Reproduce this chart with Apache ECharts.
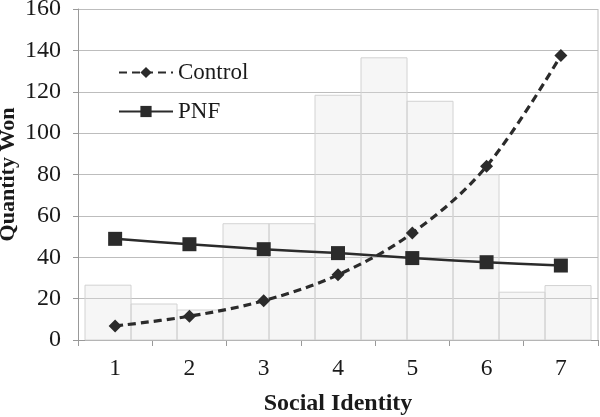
<!DOCTYPE html>
<html><head><meta charset="utf-8">
<script src="https://cdn.jsdelivr.net/npm/echarts@6/dist/echarts.min.js"></script>
<style>html,body{margin:0;padding:0;background:#fff}#c{width:600px;height:417px}</style>
</head><body><div id="c"></div>
<script>
var categories = ['1','2','3','4','5','6','7'];
var controlValues = [6.8, 11.5, 19, 31.5, 51.7, 84, 137.5];
var pnfValues = [48.9, 46.3, 43.9, 42, 39.6, 37.6, 36];
var histValues = [26.5, 17.4, 14.5, 56.2, 56.2, 118.3, 136.4, 115.4, 79.9, 23.1, 26.3];
var yTicks = {min: 0, max: 160, interval: 20};

var FONT = 'Liberation Serif';
var chart = echarts.init(document.getElementById('c'));
var histData = histValues.map(function (v, i) { return [i, v]; });
chart.setOption({
  animation: false,
  grid: {left: 78, right: 2, top: 9, bottom: 77, containLabel: false, outerBoundsMode: 'none'},
  legend: {
    orient: 'vertical', left: 113, top: 56, itemWidth: 54, itemHeight: 14, itemGap: 16,
    textStyle: {fontFamily: FONT, fontSize: 23, color: '#1a1a1a'},
    data: ['Control', 'PNF']
  },
  xAxis: [{
    type: 'category', data: categories,
    axisLine: {onZero: false, lineStyle: {color: '#999'}},
    axisTick: {show: true, length: 6, lineStyle: {color: '#999'}},
    axisLabel: {fontFamily: FONT, fontSize: 23.5, color: '#1a1a1a', margin: 17},
    name: 'Social Identity', nameLocation: 'middle', nameGap: 52, nameMoveOverlap: false,
    nameTextStyle: {fontFamily: FONT, fontSize: 24, fontWeight: 'bold', color: '#1a1a1a'}
  }, {
    type: 'value', show: false, min: -7 / 46, max: 11 + 7 / 46
  }],
  yAxis: {
    type: 'value', min: yTicks.min, max: yTicks.max, interval: yTicks.interval,
    axisLine: {show: true, onZero: false, lineStyle: {color: '#999'}},
    axisTick: {show: true, length: 5, lineStyle: {color: '#999'}},
    axisLabel: {fontFamily: FONT, fontSize: 24, color: '#1a1a1a', margin: 17},
    splitLine: {lineStyle: {color: '#bdbdbd'}},
    name: 'Quantity Won', nameLocation: 'middle', nameGap: 59, nameMoveOverlap: false,
    nameTextStyle: {fontFamily: FONT, fontSize: 22, fontWeight: 'bold', color: '#1a1a1a'}
  },
  series: [{
    type: 'custom', xAxisIndex: 1, z: 1, silent: true,
    data: histData,
    renderItem: function (params, api) {
      var i = api.value(0), v = api.value(1);
      var p0 = api.coord([i, v]);
      var p1 = api.coord([i + 1, 0]);
      return {type: 'rect', shape: {x: p0[0], y: p0[1], width: p1[0] - p0[0], height: p1[1] - p0[1]},
        style: {fill: 'rgba(225,225,225,0.3)', stroke: '#d2d2d2', lineWidth: 1}};
    }
  }, {
    name: 'Control', type: 'line', data: controlValues, smooth: 0.35, z: 3,
    symbol: 'diamond', symbolSize: 13,
    lineStyle: {color: '#2b2b2b', width: 3.2, type: [8, 5]},
    itemStyle: {color: '#2b2b2b'}
  }, {
    name: 'PNF', type: 'line', data: pnfValues, smooth: 0.3, z: 3,
    symbol: 'rect', symbolSize: 14,
    lineStyle: {color: '#2b2b2b', width: 2.5},
    itemStyle: {color: '#2b2b2b'}
  }],
  graphic: [{type: 'line', shape: {x1: 598, y1: 9, x2: 598, y2: 340}, style: {stroke: '#bdbdbd', lineWidth: 1}}]
});
</script></body></html>
